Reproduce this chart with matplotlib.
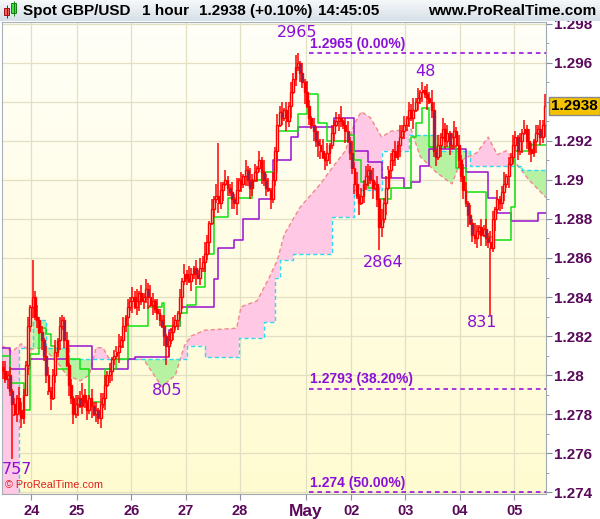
import matplotlib.pyplot as plt
import matplotlib.transforms as mtransforms
from matplotlib.patches import Rectangle
import numpy as np

plt.rcParams['font.family'] = ['Liberation Sans', 'DejaVu Sans']

# hourly GBP/USD closes, in pips above 1.2700
base = 1.27
close_pips = [
    102, 98, 100, 92, 85, 80, 88, 82, 78, 90,
    105, 125, 135, 140, 130, 128, 122, 118, 110, 100,
    92, 88, 100, 112, 118, 125, 128, 118, 105, 95,
    88, 80, 85, 88, 84, 90, 86, 82, 88, 84,
    80, 82, 78, 85, 88, 95, 100, 102, 108, 110,
    112, 115, 118, 125, 130, 135, 138, 140, 135, 138,
    142, 138, 140, 144, 140, 136, 138, 134, 132, 128,
    125, 120, 115, 118, 122, 125, 128, 132, 140, 148,
    152, 150, 148, 152, 155, 152, 150, 155, 158, 162,
    168, 178, 185, 190, 192, 188, 195, 198, 200, 196,
    194, 190, 188, 195, 200, 198, 202, 205, 200, 196,
    200, 204, 206, 210, 204, 200, 196, 195, 190, 200,
    215, 228, 235, 232, 236, 230, 238, 245, 252, 258,
    260, 255, 250, 245, 238, 232, 228, 225, 220, 218,
    215, 212, 210, 214, 218, 224, 228, 230, 232, 230,
    228, 225, 220, 214, 206, 198, 192, 188, 192, 198,
    202, 205, 200, 196, 198, 190, 176, 180, 188, 196,
    205, 210, 215, 212, 218, 222, 225, 228, 232, 236,
    232, 236, 240, 242, 245, 246, 244, 242, 240, 236,
    215, 212, 218, 222, 226, 220, 224, 218, 222, 225,
    218, 210, 202, 195, 188, 182, 178, 172, 170, 174,
    176, 172, 175, 170, 168, 165, 180, 185, 190, 188,
    194, 198, 202, 208, 212, 218, 222, 215, 220, 224,
    226, 220, 216, 214, 220, 224, 226, 222, 228, 238,
]
open_first = 104
upper_wicks = ("3524132643" "2514362315" "4236153241" "3152463125" "2416352413"
               "3625142536" "1425364152" "3614253142" "5263142536" "4152634152"
               "2536141526" "3415263514" "2635142536" "4152631425" "3625143526"
               "1452636142" "5326141536" "2415263514" "3625142536" "4152634125"
               "2536415263" "1425364152" "3614253142" "5263142536")
lower_wicks = ("4253614253" "1536241534" "2614352416" "3526143526" "1435261453"
               "2614352614" "5243615243" "1536241536" "2415361425" "3614253614"
               "2536142536" "4152634152" "3614253614" "2536142536" "4153624153"
               "2614352614" "3526143526" "1435261435" "2614352614" "3526143526"
               "1435261435" "2614352614" "3526143526" "1435261436")
high_extremes = {13: 159, 95: 219, 130: 265, 186: 248}
low_extremes = {4: 57, 72: 105, 166: 164, 215: 131}

day_ticks = [12.5, 32.5, 56.5, 80.5, 104.5, 133.5, 153.5, 177.5, 201.5, 225.5]
day_labels = ['24', '25', '26', '27', '28', 'May', '02', '03', '04', '05']

# Ichimoku lines (bar index, pips above 1.27)
tenkan_idx = [-0.5, 3, 9, 12, 16, 19, 21, 23, 29, 34, 38, 45, 50, 55, 64, 70, 71, 78, 81, 85, 89,
              93, 99, 110, 114, 121, 130, 134, 139, 143, 152, 155, 158, 161, 166, 171, 180,
              182, 185, 188, 200, 204, 213, 216, 224, 226, 232]
tenkan_val = [110, 96, 82, 111, 124, 121, 115, 103, 108, 103, 86, 103, 108, 125, 135, 137, 125, 132,
              136, 145, 162, 181, 191, 200, 204, 225, 234, 244, 229, 220, 223, 210, 199, 196, 190,
              196, 222, 229, 237, 217, 206, 194, 171, 169, 186, 215, 218]
kijun_idx = [-0.5, 3, 12, 28, 39, 55, 58, 73, 76, 78, 93, 95, 102, 106, 113, 119, 127, 130, 146,
             155, 161, 167, 177, 180, 184, 188, 204, 214, 218, 224, 236]
kijun_val = [114, 103, 108, 115, 103, 108, 109, 123, 125, 135, 149, 165, 169, 180, 190, 210, 222,
             227, 232, 215, 209, 201, 196, 199, 207, 216, 204, 191, 183, 179, 183]
span_b_idx = [-0.5, 7, 13, 19, 29, 81, 89, 104, 115, 120, 122, 128, 145, 155, 167, 179, 193, 206, 229]
span_b_val = [-30, 114, 128, 114, 108, 115, 109, 119, 127, 150, 159, 162, 181, 195, 215, 223, 215,
              207, 205]
span_a_idx = [-0.5, 4, 8, 11, 17, 23, 28, 34, 38, 41, 44, 47, 62, 70, 76, 80, 83, 89, 103, 105, 112,
              117, 121, 124, 127, 131, 134, 140, 145, 151, 155, 158, 162, 167, 171, 180, 184, 191,
              198, 202, 209, 214, 218, 222, 226, 232, 239.5]
span_a_val = [115, 112, 116, 113, 114, 108, 100, 97, 100, 114, 114, 108, 108, 94, 100, 115, 120, 123,
              124, 135, 138, 149, 159, 172, 178, 186, 190, 198, 206, 215, 229, 235, 232, 222, 225,
              226, 212, 204, 198, 210, 214, 222, 213, 215, 209, 200, 191]

fib_levels = [1.2965, 1.2793, 1.274]
fib_texts = ['1.2965 (0.00%)', '1.2793 (38.20%)', '1.274 (50.00%)']
fib_start = 135

swing_texts = ['757', '805', '2965', '2864', '48', '831']
swing_idx = [-0.6, 72.3, 129.5, 167.5, 186.1, 211.2]
swing_price = [1.27515, 1.27923, 1.29754, 1.28579, 1.29554, 1.28267]
swing_ha = ['left', 'center', 'center', 'center', 'center', 'center']

last_price = 1.2938

# ---------------------------------------------------------------
n = len(close_pips)
idx = np.arange(n)
close = base + np.array(close_pips) / 1e4
opn = np.concatenate([[base + open_first / 1e4], close[:-1]])
top = np.maximum(opn, close)
bot = np.minimum(opn, close)
high = top + np.array([int(c) for c in upper_wicks]) / 1e4
low = bot - np.array([int(c) for c in lower_wicks]) / 1e4
for i, v in high_extremes.items():
    high[i] = base + v / 1e4
for i, v in low_extremes.items():
    low[i] = base + v / 1e4

W, H = 600, 519
fig = plt.figure(figsize=(W / 100, H / 100), dpi=100)
fig.patch.set_facecolor('white')
ax = fig.add_axes([2 / W, 25 / H, 544 / W, 472 / H])
xlo, xhi = -0.5, n - 0.5
ylo, yhi = 1.2739, 1.2981
ax.set_xlim(xlo, xhi)
ax.set_ylim(ylo, yhi)

# yellowish background gradient
grad = np.linspace(0, 1, 256)[:, None]
c_top = np.array([255, 255, 248]) / 255
c_bot = np.array([255, 251, 208]) / 255
img = (c_top[None, None, :] * (1 - grad[:, :, None]) + c_bot[None, None, :] * grad[:, :, None])
ax.imshow(img, extent=[xlo, xhi, ylo, yhi], aspect='auto', origin='upper', zorder=0)

yt = np.round(np.arange(1.274, 1.2981, 0.002), 3)
ax.set_yticks(yt)
# the 1.294 label sits under the last-price box, as in the source chart
ax.set_yticklabels(['' if abs(v - 1.294) < 1e-9 else f'{v:.3f}'.rstrip('0') for v in yt])
ax.set_yticks(np.round(np.arange(1.275, 1.2981, 0.002), 3), minor=True)
ax.set_xticks(day_ticks)
ax.set_xticklabels(day_labels)
ax.grid(True, which='major', color='#e2dfc2', lw=0.9, zorder=1)
ax.set_axisbelow(True)

# cloud
xs = np.linspace(xlo, xhi, 3000)
sa = base + np.interp(xs, span_a_idx, span_a_val) / 1e4
sb = base + np.array(span_b_val)[np.searchsorted(span_b_idx, xs, side='right') - 1] / 1e4
ax.fill_between(xs, sa, sb, where=sa >= sb, interpolate=True, color='#ffc8e4', lw=0, zorder=2)
ax.fill_between(xs, sa, sb, where=sa < sb, interpolate=True, color='#b6f2a2', lw=0, zorder=2)
ax.plot(span_a_idx, base + np.array(span_a_val) / 1e4, color='#f08a8a', lw=1,
        ls=(0, (3, 2)), zorder=3)
ax.plot(span_b_idx + [xhi], base + np.array(span_b_val + [span_b_val[-1]]) / 1e4,
        drawstyle='steps-post', color='#30d8f0', lw=1, ls=(0, (3, 2)), zorder=3)

ax.plot(kijun_idx + [xhi], base + np.array(kijun_val + [kijun_val[-1]]) / 1e4,
        drawstyle='steps-post', color='#9a10d0', lw=1.1, zorder=4)
ax.plot(tenkan_idx + [xhi], base + np.array(tenkan_val + [tenkan_val[-1]]) / 1e4,
        drawstyle='steps-post', color='#10e010', lw=1.1, zorder=4)

# candles
ax.vlines(idx, top, high, color='#ff0000', lw=1.1, zorder=5)
ax.vlines(idx, low, bot, color='#ff0000', lw=1.1, zorder=5)
bear = close < opn
face = np.where(bear, '#50307f', '#fffbe4')
hgt = np.maximum(top - bot, 0.00004)
ax.bar(idx, hgt, bottom=bot, width=0.85, color=face, edgecolor='#ff0000', lw=1.0, zorder=6)

# fibonacci levels
for lv, tx in zip(fib_levels, fib_texts):
    ax.hlines(lv, fib_start, xhi, colors='#9000e0', linestyles=(0, (3, 2.5)), lw=1.1, zorder=7)
    ax.text(fib_start + 0.5, lv + 0.00012, tx, color='#8a10d8', fontsize=10,
            fontweight='bold', ha='left', va='bottom', zorder=8)

for tx, xi, pr, ha in zip(swing_texts, swing_idx, swing_price, swing_ha):
    ax.text(xi, pr, tx, color='#8a10d8', fontsize=11.5, family='DejaVu Sans',
            ha=ha, va='center', zorder=8)

ax.text(1, 1.2741, '\u00a9 ProRealTime.com', color='#e02020', fontsize=7.8,
        ha='left', va='bottom', zorder=9)

# axes styling
ax.yaxis.tick_right()
for s in ['top', 'left']:
    ax.spines[s].set_color('#a8b0b8')
ax.spines['right'].set_color('#a0a8b0')
ax.spines['bottom'].set_color('#a0a8b0')
ax.tick_params(axis='y', which='major', direction='out', length=4, color='#8890a0',
               labelsize=11, labelcolor='#5a0a5a', pad=2)
ax.tick_params(axis='y', which='minor', direction='out', length=2, color='#8890a0')
ax.tick_params(axis='x', direction='out', length=4, color='#8890a0', labelsize=10.5,
               labelcolor='#5a0a5a', pad=3)
for lab in ax.get_yticklabels():
    lab.set_fontweight('bold')
for lab in ax.get_xticklabels():
    lab.set_fontweight('bold')
    if lab.get_text() == 'May':
        lab.set_fontsize(12.5)

trans = mtransforms.blended_transform_factory(ax.transAxes, ax.transData)
ax.text(1.01, last_price, f'{last_price:.4f}', transform=trans, fontsize=11, fontweight='bold',
        color='black', ha='left', va='center', zorder=10,
        bbox=dict(boxstyle='square,pad=0.15', fc='#f5c200', ec='#8a8a8a', lw=1))

# header bar
hax = fig.add_axes([0, 1 - 21 / H, 1, 21 / H])
hax.set_xlim(0, W)
hax.set_ylim(21, 0)
hgrad = np.linspace(0, 1, 64)[:, None]
h_top = np.array([246, 248, 250]) / 255
h_bot = np.array([214, 224, 232]) / 255
himg = h_top[None, None, :] * (1 - hgrad[:, :, None]) + h_bot[None, None, :] * hgrad[:, :, None]
hax.imshow(himg, extent=[0, W, 21, 0], aspect='auto')
hax.axis('off')
hax.add_patch(Rectangle((4, 8), 5, 7, fc='#f06060', ec='#a01010', lw=0.7))
hax.vlines(6.5, 5, 18, color='#a01010', lw=0.7)
hax.add_patch(Rectangle((11, 3), 5, 10, fc='#40e040', ec='#108010', lw=0.7))
hax.vlines(13.5, 1, 16, color='#108010', lw=0.7)
hfont = dict(fontsize=11, fontweight='bold', color='black', va='center')
hax.text(23, 11, 'Spot GBP/USD', **hfont)
hax.text(142, 11, '1 hour', **hfont)
hax.text(199, 11, f'{last_price:.4f} (+0.10%)', **hfont)
hax.text(318, 11, '14:45:05', **hfont)
hax.text(596, 11, 'www.ProRealTime.com', ha='right', **hfont)

fig.savefig('out.png', dpi=100)
